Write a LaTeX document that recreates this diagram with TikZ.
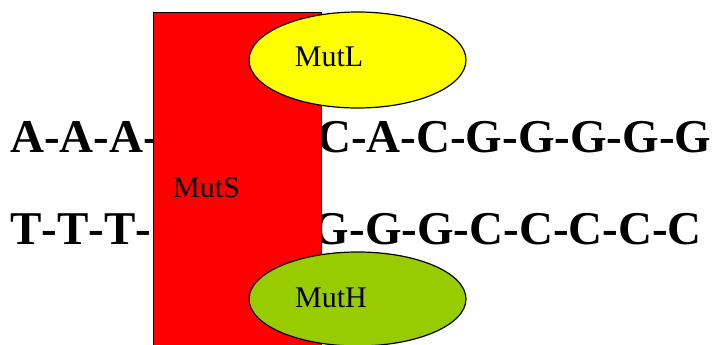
\documentclass[tikz,border=0pt]{standalone}
\usepackage{fontspec}
\setmainfont[Kerning=Off]{Liberation Serif}
\usetikzlibrary{shapes.geometric}
\definecolor{muthgreen}{HTML}{99CC00}
\definecolor{mutlyellow}{HTML}{FFFF00}
\definecolor{mutsred}{HTML}{FF0000}
\begin{document}
\begin{tikzpicture}[x=1pt,y=-1pt,
  seq/.style={inner sep=0pt,font=\fontsize{47}{50}\selectfont\bfseries},
  lbl/.style={inner sep=0pt,font=\fontsize{30}{32}\selectfont},
  protein/.style={draw=black,line width=1.2pt,ellipse,minimum width=217pt,minimum height=96pt,inner sep=0pt}]
\useasboundingbox (0,0) rectangle (716,345);
\clip (0,0) rectangle (716,345);
% DNA strands
\node[seq,anchor=base west] (a1) at (10,153) {A-A-A-};
\node[seq,anchor=base east] (a2) at (711.5,153) {C-A-C-G-G-G-G-G};
\node[seq,anchor=base west] (t1) at (10,244) {T-T-T-};
\node[seq,anchor=base east] (t2) at (702,244) {G-G-G-C-C-C-C-C};
% MutS
\node[draw=black,fill=mutsred,line width=1.2pt,minimum width=168pt,minimum height=360pt,inner sep=0pt,anchor=north west] (muts) at (153,12) {};
\node[lbl,anchor=base] (mutslbl) at (206.5,197) {MutS};
% MutL
\node[protein,fill=mutlyellow] (mutl) at (357.5,60) {};
\node[lbl,anchor=base] (mutllbl) at (329,67) {MutL};
% MutH
\node[protein,fill=muthgreen,minimum height=94pt] (muth) at (357.5,299) {};
\node[lbl,anchor=base] (muthlbl) at (331,307) {MutH};
\end{tikzpicture}
\end{document}
